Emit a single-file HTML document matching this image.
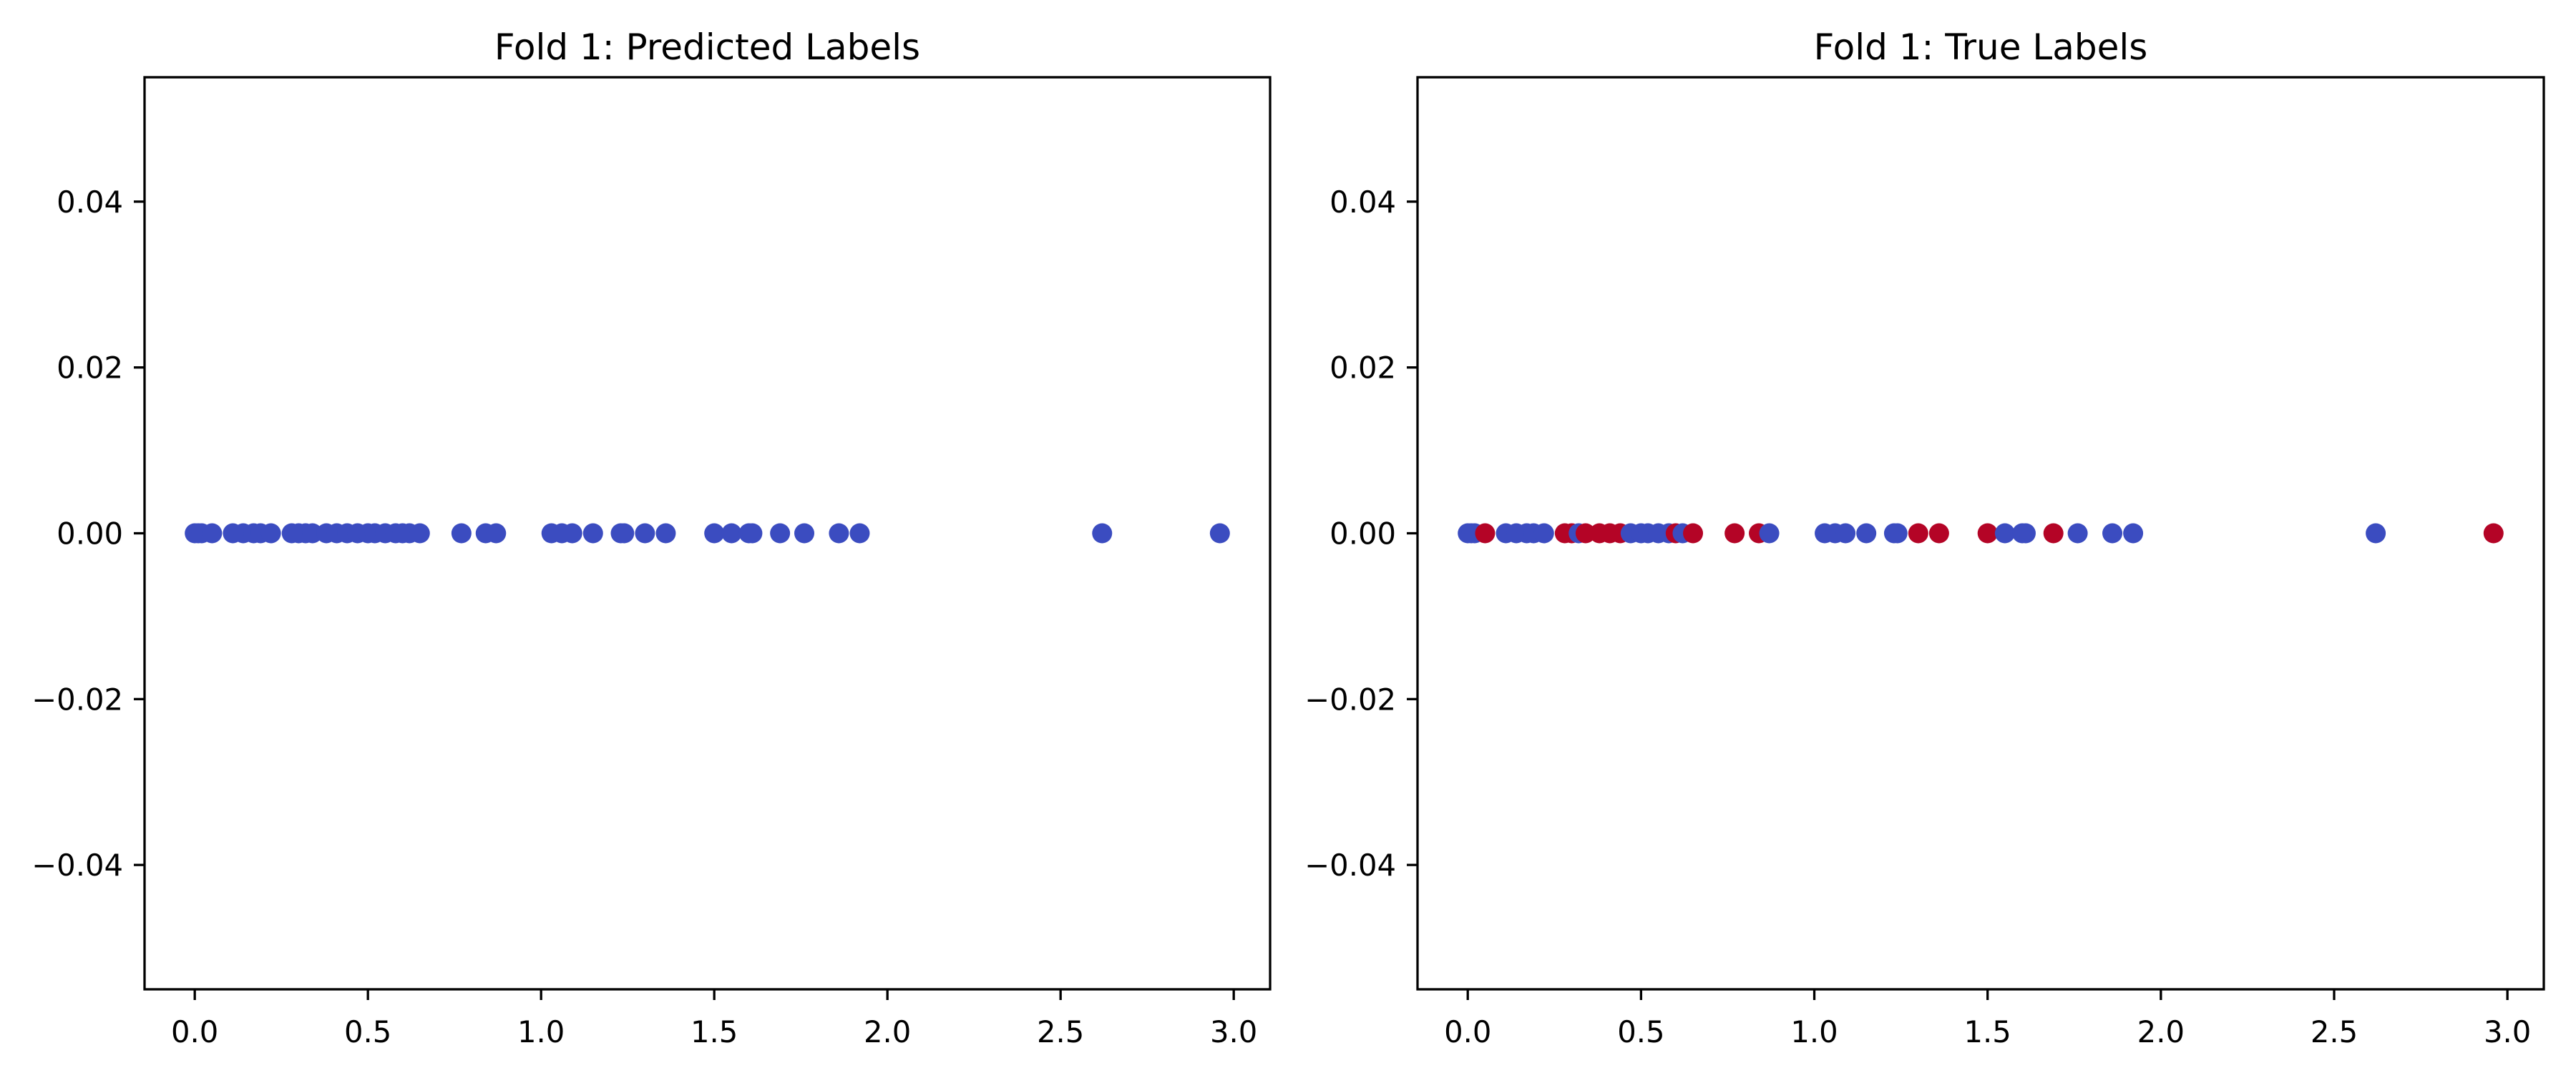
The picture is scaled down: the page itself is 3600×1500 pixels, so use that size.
<!DOCTYPE html>
<html><head><meta charset="utf-8"><style>
html,body{margin:0;padding:0;background:#fff;}
svg{display:block;font-family:"DejaVu Sans","Liberation Sans",sans-serif;}
</style></head><body>
<svg id="fig" width="3600" height="1500" viewBox="0 0 3600 1500"></svg>
<script>
const xValues = [0.00,0.01,0.02,0.05,0.11,0.14,0.17,0.19,0.22,0.28,0.30,0.32,0.34,0.38,0.41,0.44,0.47,0.50,0.52,0.55,0.58,0.60,0.62,0.65,0.77,0.84,0.87,1.03,1.06,1.09,1.15,1.23,1.24,1.30,1.36,1.50,1.55,1.60,1.61,1.69,1.76,1.86,1.92,2.62,2.96];
const predictedLabels = [0,0,0,0,0,0,0,0,0,0,0,0,0,0,0,0,0,0,0,0,0,0,0,0,0,0,0,0,0,0,0,0,0,0,0,0,0,0,0,0,0,0,0,0,0];
const trueLabels = [0,0,0,1,0,0,0,0,0,1,1,0,1,1,1,1,0,0,0,0,0,1,0,1,1,1,0,0,0,0,0,0,0,1,1,1,0,0,0,1,0,0,0,0,1];
const xTicks = [0.0,0.5,1.0,1.5,2.0,2.5,3.0];
const xTickLabels = ["0.0","0.5","1.0","1.5","2.0","2.5","3.0"];
const yTicks = [-0.04,-0.02,0.00,0.02,0.04];
const yTickLabels = ["\u22120.04","\u22120.02","0.00","0.02","0.04"];
const titles = ["Fold 1: Predicted Labels","Fold 1: True Labels"];
const xLim = [-0.145, 3.105], yLim = [-0.055, 0.055];
const colors = ["#3b4cc0","#b40426"];
const NS = "http://www.w3.org/2000/svg";
const svg = document.getElementById('fig');
function mk(tag, attrs, parent){const e=document.createElementNS(NS,tag);for(const k in attrs)e.setAttribute(k,attrs[k]);(parent||svg).appendChild(e);return e;}
const panels = [{x0:202,x1:1775,labels:predictedLabels,key:'predicted'},{x0:1981,x1:3555,labels:trueLabels,key:'true'}];
const y0 = 108, y1 = 1383;
panels.forEach((p,pi)=>{
  const g = mk('g',{});
  
  
  const sx = v => p.x0 + (v - xLim[0])/(xLim[1]-xLim[0])*(p.x1-p.x0);
  const sy = v => y1 - (v - yLim[0])/(yLim[1]-yLim[0])*(y1-y0);
  // points
  xValues.forEach((v,i)=>{
    const c = mk('circle',{cx:sx(v),cy:sy(0),r:14,fill:colors[p.labels[i]]},g);
    
    
  });
  // frame
  const fr = mk('rect',{x:p.x0,y:y0,width:p.x1-p.x0,height:y1-y0,fill:'none',stroke:'#000','stroke-width':3.3},g);
  
  
  xTicks.forEach((t,i)=>{
    const X = sx(t);
    const tk = mk('line',{x1:X,x2:X,y1:y1,y2:y1+15,stroke:'#000','stroke-width':3.3},g);
    
    
    const tx = mk('text',{x:X,y:y1+74,'font-size':41.7,'text-anchor':'middle',fill:'#000'},g);
    tx.textContent = xTickLabels[i];
    
    
  });
  yTicks.forEach((t,i)=>{
    const Y = sy(t);
    const tk = mk('line',{x1:p.x0-15,x2:p.x0,y1:Y,y2:Y,stroke:'#000','stroke-width':3.3},g);
    
    
    const tx = mk('text',{x:p.x0-30,y:Y+15,'font-size':41.7,'text-anchor':'end',fill:'#000'},g);
    tx.textContent = yTickLabels[i];
    
    
  });
  const ti = mk('text',{x:(p.x0+p.x1)/2,y:y0-25,'font-size':50,'text-anchor':'middle',fill:'#000'},g);
  ti.textContent = titles[pi];
  
  
});
</script>
</body></html>
